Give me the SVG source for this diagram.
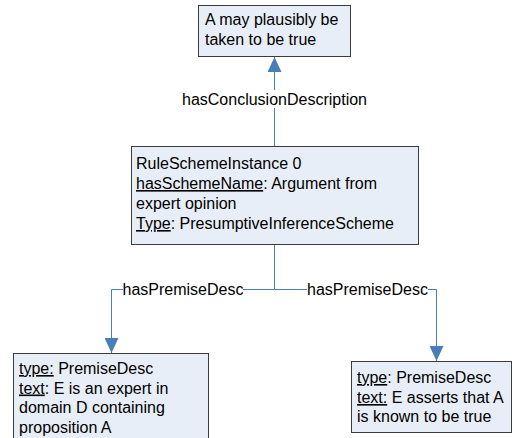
<svg xmlns="http://www.w3.org/2000/svg" width="514" height="438" viewBox="0 0 514 438">
  <style>
    .box { fill: #E8EEF7; stroke: #3C3C3C; stroke-width: 1; }
    .txt { font-family: "Liberation Sans", Arial, sans-serif; font-size: 16px; fill: #000; }
    .lbl { font-family: "Liberation Sans", Arial, sans-serif; font-size: 16px; fill: #000; text-anchor: middle; }
    .edge { fill: none; stroke: #4A7EBB; stroke-width: 1; }
    .u { text-decoration: underline; }
  </style>
  <defs>
    <marker id="arrow" markerUnits="userSpaceOnUse" viewBox="0 0 15 14" refX="15" refY="7" markerWidth="15" markerHeight="14" orient="auto">
      <path d="M0,0 L15,7 L0,14 z" fill="#4A7EBB"/>
    </marker>
  </defs>
  <rect width="514" height="438" fill="#FFFFFF"/>

  <!-- connectors -->
  <g id="connectors">
    <path class="edge" d="M274.5,146 V57" marker-end="url(#arrow)"/>
    <path class="edge" d="M274.5,245 V289.5 H111.5 V353" marker-end="url(#arrow)"/>
    <path class="edge" d="M274.5,289.5 H436.5 V361" marker-end="url(#arrow)"/>
    <rect x="183" y="90" width="183" height="18" fill="#FFFFFF"/>
    <text class="lbl" x="274.5" y="105">hasConclusionDescription</text>
    <rect x="123" y="281" width="120" height="18" fill="#FFFFFF"/>
    <text class="lbl" x="183" y="295">hasPremiseDesc</text>
    <rect x="307" y="281" width="121" height="18" fill="#FFFFFF"/>
    <text class="lbl" x="367.5" y="295">hasPremiseDesc</text>
  </g>

  <!-- conclusion -->
  <g id="conclusion">
    <rect class="box" x="198.5" y="5.5" width="152" height="51"/>
    <text class="txt" x="205" y="25">A may plausibly be</text>
    <text class="txt" x="205" y="45">taken to be true</text>
  </g>

  <!-- scheme instance -->
  <g id="scheme">
    <rect class="box" x="131.5" y="146.5" width="287" height="98"/>
    <text class="txt" x="136" y="169">RuleSchemeInstance 0</text>
    <text class="txt" x="136" y="189"><tspan class="u">hasSchemeName</tspan>: Argument from</text>
    <text class="txt" x="136" y="209">expert opinion</text>
    <text class="txt" x="136" y="229"><tspan class="u">Type</tspan>: PresumptiveInferenceScheme</text>
  </g>

  <!-- premise 1 -->
  <g id="premise1">
    <rect class="box" x="13.5" y="353.5" width="195" height="100"/>
    <text class="txt" x="19" y="374"><tspan class="u">type:</tspan> PremiseDesc</text>
    <text class="txt" x="19" y="393.5"><tspan class="u">text</tspan>: E is an expert in</text>
    <text class="txt" x="19" y="413">domain D containing</text>
    <text class="txt" x="19" y="432.5">proposition A</text>
  </g>

  <!-- premise 2 -->
  <g id="premise2">
    <rect class="box" x="351.5" y="361.5" width="160" height="71"/>
    <text class="txt" x="357" y="383"><tspan class="u">type</tspan>: PremiseDesc</text>
    <text class="txt" x="357" y="403"><tspan class="u">text:</tspan> E asserts that A</text>
    <text class="txt" x="357" y="422">is known to be true</text>
  </g>
</svg>
